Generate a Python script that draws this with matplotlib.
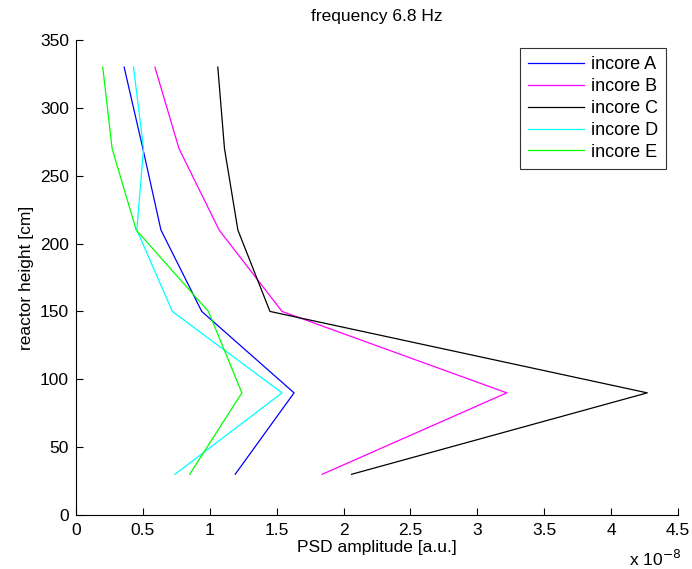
import numpy as np
import matplotlib
matplotlib.use("Agg")
import matplotlib.pyplot as plt

plt.rcParams['font.family'] = ['Liberation Sans', 'DejaVu Sans']

# Hoehen der Detektoren [cm]
hoehe = [30, 90, 150, 210, 270, 330]

# PSD Amplituden (in Einheiten von 1e-8)
psd_A = [1.19, 1.63, 0.94, 0.635, 0.50, 0.36]
psd_B = [1.84, 3.22, 1.54, 1.07, 0.77, 0.59]
psd_C = [2.06, 4.27, 1.45, 1.21, 1.11, 1.06]
psd_D = [0.74, 1.54, 0.72, 0.455, 0.505, 0.43]
psd_E = [0.85, 1.24, 0.99, 0.45, 0.27, 0.20]

namen = ["incore A", "incore B", "incore C", "incore D", "incore E"]
farben = ["#0000ff", "#ff00ff", "#000000", "#00ffff", "#00ff00"]

fs = 12.5

fig = plt.figure(figsize=(6.92, 5.69), dpi=100)
ax1 = fig.add_axes([0.1098, 0.0949, 0.8700, 0.8348])

for d, n, c in zip([psd_A, psd_B, psd_C, psd_D, psd_E], namen, farben):
    ax1.plot(np.array(d) * 1e-8, hoehe, color=c, lw=0.9, label=n)

ax1.set_xlim(0, 4.5e-8)
ax1.set_ylim(0, 350)
ax1.set_xticks(np.arange(0, 4.51, 0.5) * 1e-8)
ax1.set_xticklabels(["0", "0.5", "1", "1.5", "2", "2.5", "3", "3.5", "4", "4.5"])
ax1.set_yticks(np.arange(0, 351, 50))
ax1.tick_params(direction='in', length=5, width=0.8, labelsize=fs, colors='black')
ax1.tick_params(axis='x', pad=6)
ax1.tick_params(axis='y', pad=5)
ax1.spines['top'].set_visible(False)
ax1.spines['right'].set_visible(False)
for s in ['left', 'bottom']:
    ax1.spines[s].set_linewidth(0.8)

ax1.set_xlabel("PSD amplitude [a.u.]", fontsize=fs, labelpad=1)
ax1.set_ylabel("reactor height [cm]", fontsize=fs, labelpad=4)
ax1.set_title("frequency 6.8 Hz", fontsize=fs, pad=14)
fig.text(0.984, 0.0, r"x 10$^{-8}$", fontsize=fs, ha='right', va='bottom')

leg = ax1.legend(loc='upper right', bbox_to_anchor=(0.98, 0.983), fontsize=13,
                 frameon=True, fancybox=False, edgecolor='black', handlelength=3.1,
                 handletextpad=0.35, labelspacing=0.27, borderpad=0.45, borderaxespad=0)
leg.get_frame().set_linewidth(0.8)

plt.savefig("out.png", dpi=100)
